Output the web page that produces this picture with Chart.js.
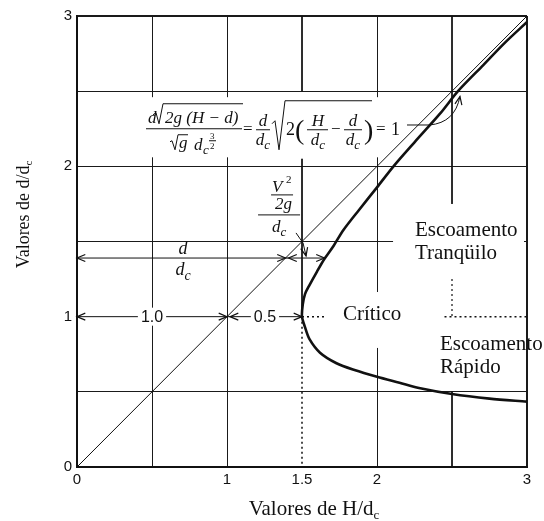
<!DOCTYPE html>
<html><head><meta charset="utf-8">
<script src="https://cdn.jsdelivr.net/npm/chart.js@4/dist/chart.umd.min.js"></script>
<style>html,body{margin:0;padding:0;background:#fff}#wrap{width:544px;height:521px;position:relative}</style>
</head><body><div id="wrap"><canvas id="c"></canvas></div>
<script>
// ---- data ----
const xTickValues = [0, 1, 1.5, 2, 3];
const xTickText   = ['0', '1', '1.5', '2', '3'];
const yTickValues = [0, 1, 2, 3];
const yTickText   = ['0', '1', '2', '3'];

const diagH = [0, 3];
const diagD = [0, 3];

const upperH = [1.50, 1.505, 1.52, 1.55, 1.60, 1.65, 1.71, 1.775, 1.88, 2.00, 2.11, 2.25, 2.42, 2.54, 2.70, 2.85, 3.00];
const upperD = [1.00, 1.08, 1.15, 1.21, 1.30, 1.385, 1.47, 1.575, 1.71, 1.86, 2.00, 2.16, 2.35, 2.50, 2.665, 2.82, 2.96];

const lowerH = [1.50, 1.52, 1.55, 1.62, 1.73, 1.85, 2.00, 2.15, 2.28, 2.50, 2.75, 3.00];
const lowerD = [1.00, 0.93, 0.85, 0.76, 0.69, 0.645, 0.60, 0.56, 0.525, 0.485, 0.455, 0.435];

const critD = 1.0;      // d/dc at critical depth
const critH = 1.5;      // H/dc at critical depth
const ratioD = 1.39;    // level of the d/dc and V²/2g arrows
const ratioCurveH = 1.65; // curve abscissa at that level

// ---- helpers ----
const serif = '"Liberation Serif", "Times New Roman", serif';
const sans = '"Liberation Sans", Arial, sans-serif';
const pts = (xs, ys) => xs.map((x, i) => ({x, y: ys[i]}));
const seg = (x1, y1, x2, y2) => [{x: x1, y: y1}, {x: x2, y: y2}];
const lineDs = (data, w, dash, tension) => ({data, showLine: true, borderColor: '#111', borderWidth: w,
  borderDash: dash || [], pointRadius: 0, pointHoverRadius: 0, fill: false, tension: tension || 0});
const near = (a, b) => Math.abs(a - b) < 1e-6;
const labelFor = (v, vals, txt) => { const i = vals.findIndex(t => near(t, v)); return i >= 0 ? txt[i] : ''; };

const curve = pts(lowerH.slice().reverse(), lowerD.slice().reverse()).concat(pts(upperH.slice(1), upperD.slice(1)));

const datasets = [
  lineDs(pts(diagH, diagD), 1),
  lineDs(curve, 2.6, null, 0.3),
  // critical depth row and column
  lineDs(seg(0, critD, critH, critD), 1),
  lineDs(seg(critH, critD, 1.66, critD), 1.5, [2, 3]),
  lineDs(seg(2.45, critD, 3, critD), 1.5, [2, 3]),
  lineDs(seg(critH, 3, critH, 2.5), 1),
  lineDs(seg(critH, 2.05, critH, critD), 1),
  lineDs(seg(critH, critD, critH, 0), 1.5, [2, 3]),
  // x = 2.5 column
  lineDs(seg(2.5, 3, 2.5, 1.75), 1),
  lineDs(seg(2.5, 1.25, 2.5, critD), 1.2, [2, 3]),
  lineDs(seg(2.5, 0.5, 2.5, 0), 1),
  // d/dc arrow row
  lineDs(seg(0, ratioD, ratioCurveH, ratioD), 1)
];

function T(ctx, s, x, y, font, align, base) {
  ctx.font = font; ctx.textAlign = align || 'left'; ctx.textBaseline = base || 'alphabetic'; ctx.fillText(s, x, y);
}
function L(ctx, p, w) {
  ctx.beginPath(); ctx.moveTo(p[0][0], p[0][1]);
  for (let i = 1; i < p.length; i++) ctx.lineTo(p[i][0], p[i][1]);
  ctx.lineWidth = w || 1; ctx.stroke();
}
function arrowHead(ctx, x, y, ang) {
  const len = 9, a = 0.4;
  ctx.beginPath();
  ctx.moveTo(x - len * Math.cos(ang - a), y - len * Math.sin(ang - a));
  ctx.lineTo(x, y);
  ctx.lineTo(x - len * Math.cos(ang + a), y - len * Math.sin(ang + a));
  ctx.lineWidth = 1.2; ctx.stroke();
}
function dSubC(ctx, cx, base, size) {
  ctx.font = `italic ${size}px ${serif}`; const wd = ctx.measureText('d').width;
  ctx.font = `italic ${Math.round(size * 0.75)}px ${serif}`; const wc = ctx.measureText('c').width;
  const x0 = cx - (wd + wc) / 2;
  T(ctx, 'd', x0, base, `italic ${size}px ${serif}`);
  T(ctx, 'c', x0 + wd, base + size * 0.25, `italic ${Math.round(size * 0.75)}px ${serif}`);
}

const notes = {
  id: 'notes',
  beforeDatasetsDraw(chart) {
    const {ctx, scales: {x: sx, y: sy}} = chart;
    const X = v => sx.getPixelForValue(v), Y = v => sy.getPixelForValue(v);
    ctx.save(); ctx.fillStyle = '#fff';
    const boxes = [[0.42, 2.46, 2.17, 2.06], [1.187, 1.976, 1.48, 1.524], [1.753, 1.164, 2.233, 0.792],
                   [2.107, 1.697, 2.98, 1.257], [2.393, 0.965, 2.993, 0.539]];
    for (const [x1, y1, x2, y2] of boxes) ctx.fillRect(X(x1), Y(y1), X(x2) - X(x1), Y(y2) - Y(y1));
    ctx.restore();
  },
  afterDatasetsDraw(chart) {
    const {ctx, scales: {x: sx, y: sy}} = chart;
    const X = v => sx.getPixelForValue(v), Y = v => sy.getPixelForValue(v);
    const it = s => `italic ${s}px ${serif}`, rm = s => `${s}px ${serif}`;
    ctx.save();
    ctx.fillStyle = '#111'; ctx.strokeStyle = '#111';

    // arrows on critical row
    arrowHead(ctx, X(0), Y(critD), Math.PI);
    arrowHead(ctx, X(1), Y(critD), 0);
    arrowHead(ctx, X(1) + 3, Y(critD), Math.PI);
    arrowHead(ctx, X(critH), Y(critD), 0);
    // arrows on d/dc row
    arrowHead(ctx, X(0), Y(ratioD), Math.PI);
    arrowHead(ctx, X(ratioD), Y(ratioD), 0);
    arrowHead(ctx, X(ratioD) + 3, Y(ratioD), Math.PI);
    arrowHead(ctx, X(ratioCurveH), Y(ratioD), 0);

    // 1.0 and 0.5 labels with white background
    const numLabel = (s, xv) => {
      ctx.font = `16px ${sans}`; const w = ctx.measureText(s).width;
      ctx.fillStyle = '#fff'; ctx.fillRect(X(xv) - w / 2 - 3, Y(critD) - 9, w + 6, 18);
      ctx.fillStyle = '#111'; T(ctx, s, X(xv), Y(critD) + 1, `16px ${sans}`, 'center', 'middle');
    };
    numLabel('1.0', 0.5);
    numLabel('0.5', 1.253);

    // d / dc on the arrow row
    T(ctx, 'd', X(0.707), Y(ratioD) - 4, it(18), 'center');
    dSubC(ctx, X(0.707), Y(ratioD) + 17, 18);

    // V^2/2g over dc
    const bx = X(1.207), by = Y(1.677);
    T(ctx, 'V', bx + 14, by - 23, it(17));
    T(ctx, '2', bx + 28, by - 32, rm(11));
    L(ctx, [[bx + 13, by - 20], [bx + 35, by - 20]]);
    T(ctx, '2g', bx + 17, by - 6, it(17));
    L(ctx, [[bx, by], [bx + 42, by]]);
    dSubC(ctx, bx + 21, by + 17, 17);
    // leader to the arrow row
    L(ctx, [[X(1.46), Y(1.557)], [X(1.507), Y(1.49)], [X(1.527), Y(1.404)]]);
    arrowHead(ctx, X(1.527), Y(1.404), Math.atan2(Y(1.404) - Y(1.49), X(1.527) - X(1.507)));

    // formula
    const ax = X(0.46), ay = Y(2.25);
    T(ctx, 'd', ax + 2, ay - 6, it(17));
    L(ctx, [[ax + 7, ay - 14], [ax + 10, ay - 16], [ax + 13, ay - 5], [ax + 17, ay - 25], [ax + 97, ay - 25]]);
    T(ctx, '2g (H − d)', ax + 19, ay - 6, it(17));
    L(ctx, [[ax, ay], [ax + 96, ay]]);
    L(ctx, [[ax + 24, ay + 13], [ax + 26, ay + 12], [ax + 29, ay + 21], [ax + 32, ay + 6], [ax + 42, ay + 6]]);
    T(ctx, 'g', ax + 33, ay + 19, it(17));
    T(ctx, 'd', ax + 48, ay + 21, it(17));
    T(ctx, 'c', ax + 57, ay + 25, it(13));
    T(ctx, '3', ax + 64, ay + 10, rm(9));
    L(ctx, [[ax + 63, ay + 12], [ax + 70, ay + 12]]);
    T(ctx, '2', ax + 64, ay + 20, rm(9));
    T(ctx, '=', ax + 97, ay + 5, rm(17));
    L(ctx, [[ax + 110, ay + 1], [ax + 124, ay + 1]]);
    T(ctx, 'd', ax + 117, ay - 3, it(17), 'center');
    dSubC(ctx, ax + 117, ay + 16, 17);
    L(ctx, [[ax + 126, ay - 5], [ax + 129, ay - 8], [ax + 133, ay + 21], [ax + 139, ay - 28], [ax + 226, ay - 28]]);
    T(ctx, '2', ax + 140, ay + 6, rm(18));
    T(ctx, '(', ax + 149, ay + 10, rm(28));
    L(ctx, [[ax + 161, ay + 1], [ax + 182, ay + 1]]);
    T(ctx, 'H', ax + 172, ay - 3, it(17), 'center');
    dSubC(ctx, ax + 172, ay + 16, 17);
    T(ctx, '−', ax + 185, ay + 5, rm(17));
    L(ctx, [[ax + 198, ay + 1], [ax + 216, ay + 1]]);
    T(ctx, 'd', ax + 207, ay - 3, it(17), 'center');
    dSubC(ctx, ax + 207, ay + 16, 17);
    T(ctx, ')', ax + 218, ay + 10, rm(28));
    T(ctx, '=', ax + 230, ay + 5, rm(17));
    T(ctx, '1', ax + 245, ay + 6, rm(18));
    // leader from "= 1" to the curve
    ctx.beginPath();
    ctx.moveTo(X(2.20), Y(2.275));
    ctx.lineTo(X(2.35), Y(2.275));
    ctx.quadraticCurveTo(X(2.52), Y(2.29), X(2.553), Y(2.465));
    ctx.lineWidth = 1; ctx.stroke();
    arrowHead(ctx, X(2.553), Y(2.465), Math.atan2(Y(2.465) - Y(2.29), X(2.553) - X(2.52)));

    // region labels
    T(ctx, 'Escoamento', X(2.253), Y(1.537), rm(21));
    T(ctx, 'Tranqüilo', X(2.253), Y(1.384), rm(21));
    T(ctx, 'Crítico', X(1.773), Y(0.978), rm(21));
    T(ctx, 'Escoamento', X(2.42), Y(0.778), rm(21));
    T(ctx, 'Rápido', X(2.42), Y(0.625), rm(21));

    ctx.restore();
  },
  afterDraw(chart) {
    const {ctx, scales: {x: sx, y: sy}} = chart;
    const X = v => sx.getPixelForValue(v), Y = v => sy.getPixelForValue(v);
    ctx.save(); ctx.fillStyle = '#111';
    // x title
    const main = 'Valores de H/d';
    ctx.font = `21px ${serif}`; const wm = ctx.measureText(main).width;
    ctx.font = `13px ${serif}`; const wc = ctx.measureText('c').width;
    const x0 = X(1.58) - (wm + wc) / 2, yb = Y(0) + 48;
    T(ctx, main, x0, yb, `21px ${serif}`);
    T(ctx, 'c', x0 + wm, yb + 4, `13px ${serif}`);
    // y title
    const mainY = 'Valores de d/d';
    ctx.font = `18px ${serif}`; const wmy = ctx.measureText(mainY).width;
    ctx.font = `11px ${serif}`; const wcy = ctx.measureText('c').width;
    ctx.translate(29, Y(1.68)); ctx.rotate(-Math.PI / 2);
    const y0 = -(wmy + wcy) / 2;
    T(ctx, mainY, y0, 0, `18px ${serif}`);
    T(ctx, 'c', y0 + wmy, 3, `11px ${serif}`);
    ctx.restore();
  }
};

const gridColor = (c, hide) => (c.tick && hide.some(h => near(h, c.tick.value))) ? 'rgba(0,0,0,0)' : '#1a1a1a';
const gridW = c => (c.tick && (near(c.tick.value, 0) || near(c.tick.value, 3))) ? 2 : 1;

new Chart(document.getElementById('c'), {
  type: 'scatter',
  data: {datasets},
  options: {
    responsive: true, maintainAspectRatio: false, animation: false,
    layout: {padding: {top: 16, right: 17, left: 0, bottom: 0}},
    plugins: {legend: {display: false}, tooltip: {enabled: false}},
    events: [],
    scales: {
      x: {
        type: 'linear', min: 0, max: 3,
        afterFit(s) { s.height = 54; },
        ticks: {stepSize: 0.5, autoSkip: false, maxRotation: 0, padding: 4, color: '#111',
                font: {family: sans, size: 15}, callback: v => labelFor(v, xTickValues, xTickText)},
        grid: {drawTicks: false, color: c => gridColor(c, [1.5, 2.5]), lineWidth: gridW},
        border: {display: true, color: '#111', width: 2}
      },
      y: {
        type: 'linear', min: 0, max: 3,
        afterFit(s) { s.width = 77; },
        ticks: {stepSize: 0.5, autoSkip: false, padding: 5, color: '#111',
                font: {family: sans, size: 15}, callback: v => labelFor(v, yTickValues, yTickText)},
        grid: {drawTicks: false, color: c => gridColor(c, [1]), lineWidth: gridW},
        border: {display: true, color: '#111', width: 2}
      }
    }
  },
  plugins: [notes]
});
</script>
</body></html>
